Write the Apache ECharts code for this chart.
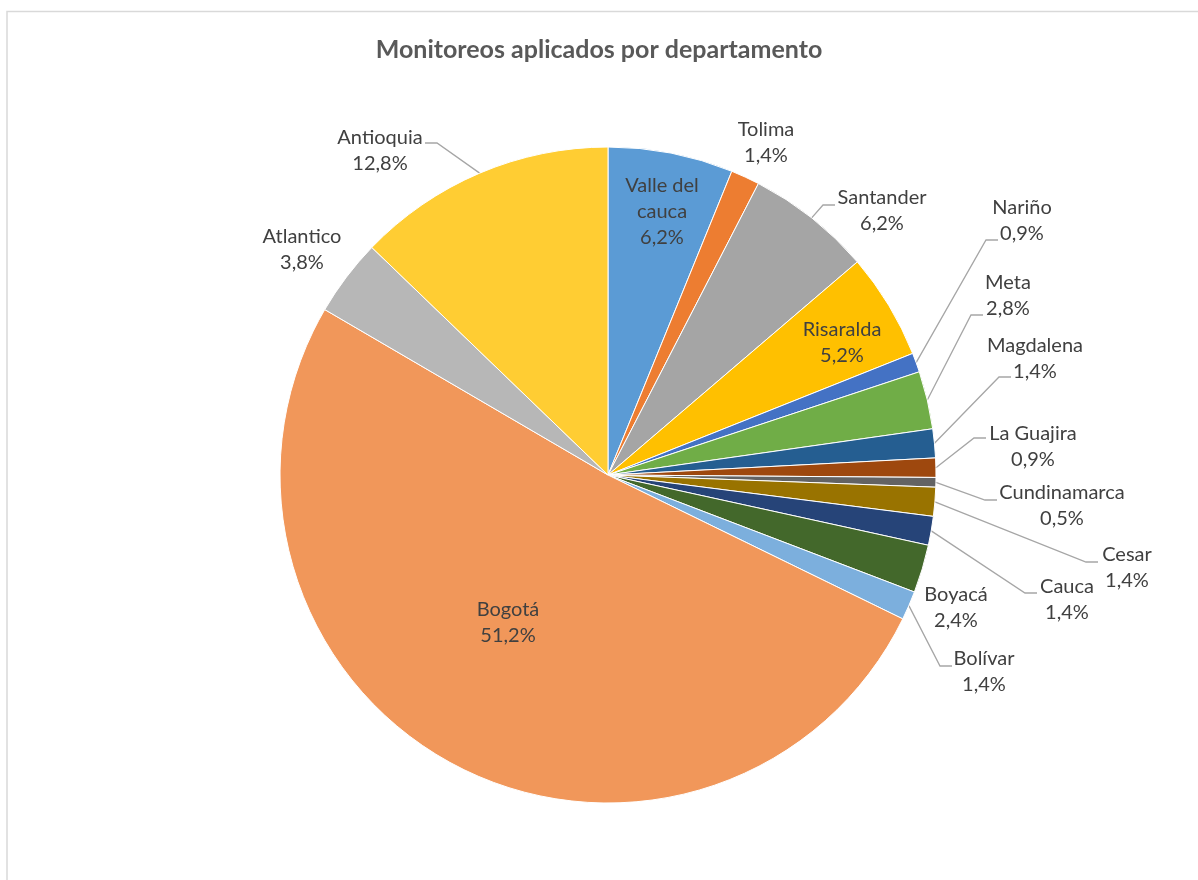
<!DOCTYPE html>
<html>
<head>
<meta charset="utf-8">
<title>Monitoreos aplicados por departamento</title>
<script src="https://cdn.jsdelivr.net/npm/echarts@6/dist/echarts.min.js"></script>
<style>
  html, body { margin: 0; padding: 0; background: #fff; }
  #chart { width: 1198px; height: 880px; }
</style>
</head>
<body>
<div id="chart"></div>
<script>
// monitoreos por departamento (conteos; los porcentajes salen de aquí)
const departamentos = [
  'Valle del cauca', 'Tolima', 'Santander', 'Risaralda', 'Nariño', 'Meta',
  'Magdalena', 'La Guajira', 'Cundinamarca', 'Cesar', 'Cauca', 'Boyacá',
  'Bolívar', 'Bogotá', 'Atlantico', 'Antioquia'
]
const monitoreos = [13, 3, 13, 11, 2, 6, 3, 2, 1, 3, 3, 5, 3, 108, 8, 27]

const total = monitoreos.reduce((a, b) => a + b, 0)

// paleta de Office
const colores = [
  '#5B9BD5', '#ED7D31', '#A5A5A5', '#FFC000', '#4472C4', '#70AD47',
  '#255E91', '#9E480E', '#636363', '#997300', '#264478', '#43682B',
  '#7CAFDD', '#F1975A', '#B7B7B7', '#FFCD33'
]

// dónde va cada etiqueta: c = centro del texto, a = donde llega la línea guía
const etiquetas = {
  'Valle del cauca': { c: [662, 212] },
  'Tolima': { c: [766, 143] },
  'Santander': { c: [882, 211], a: [835, 205] },
  'Risaralda': { c: [842, 343] },
  'Nariño': { c: [1022, 221], a: [998, 240] },
  'Meta': { c: [1008, 296], a: [983, 315] },
  'Magdalena': { c: [1035, 359], a: [1011, 377] },
  'La Guajira': { c: [1033, 447], a: [986, 438] },
  'Cundinamarca': { c: [1062, 506], a: [997, 500] },
  'Cesar': { c: [1127, 568], a: [1098, 562] },
  'Cauca': { c: [1067, 600], a: [1037, 593] },
  'Boyacá': { c: [956, 608] },
  'Bolívar': { c: [984, 672], a: [952, 666] },
  'Bogotá': { c: [508, 623] },
  'Atlantico': { c: [302, 250] },
  'Antioquia': { c: [380, 151], a: [425, 143] }
}

const pct = v => (v / total * 100).toFixed(1).replace('.', ',') + '%'

const chart = echarts.init(document.getElementById('chart'))

const option = {
  animation: false,
  color: colores,
  title: {
    text: 'Monitoreos aplicados por departamento',
    left: 'center',
    top: 30,
    textStyle: {
      fontFamily: 'Lato',
      fontSize: 25,
      fontWeight: 'bold',
      color: '#595959',
      lineHeight: 30
    }
  },
  graphic: [
    {
      type: 'rect',
      silent: true,
      shape: { x: 7, y: 11.5, width: 1400, height: 1000 },
      style: { fill: 'none', stroke: '#D9D9D9', lineWidth: 1.5 }
    }
  ],
  series: [
    {
      type: 'pie',
      center: [608, 475],
      radius: 328,
      startAngle: 90,
      clockwise: true,
      avoidLabelOverlap: false,
      emphasis: { scale: false },
      itemStyle: { borderColor: '#fff', borderWidth: 1 },
      label: {
        position: 'outside',
        fontFamily: 'Lato',
        fontSize: 20,
        lineHeight: 26,
        color: '#404040',
        formatter: p => (p.name === 'Valle del cauca' ? 'Valle del\ncauca' : p.name) + '\n' + pct(p.value)
      },
      labelLine: {
        lineStyle: { color: '#A6A6A6', width: 1.3 }
      },
      labelLayout: function (p) {
        const spot = etiquetas[departamentos[p.dataIndex]]
        const out = { x: spot.c[0], y: spot.c[1], align: 'center', verticalAlign: 'middle' }
        if (spot.a && p.labelLinePoints) {
          const start = p.labelLinePoints[0]
          const dir = spot.a[0] > start[0] ? 1 : -1
          out.labelLinePoints = [start, [spot.a[0] - dir * 12, spot.a[1]], [spot.a[0], spot.a[1]]]
        }
        return out
      },
      data: departamentos.map((n, i) => ({
        name: n,
        value: monitoreos[i],
        labelLine: { show: !!etiquetas[n].a }
      }))
    }
  ]
}

chart.setOption(option)
</script>
</body>
</html>
